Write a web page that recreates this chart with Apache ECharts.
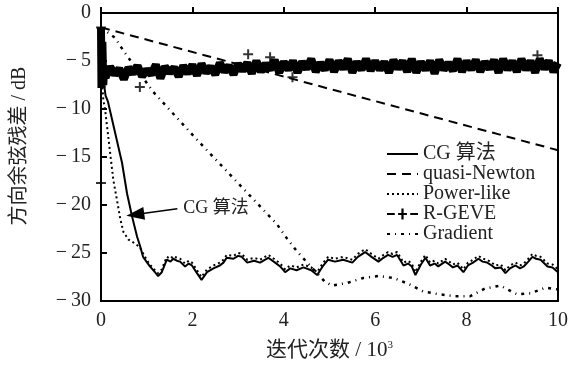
<!DOCTYPE html>
<html>
<head>
<meta charset="utf-8">
<script src="https://cdn.jsdelivr.net/npm/echarts@6/dist/echarts.min.js"></script>
<style>
  html, body { margin: 0; padding: 0; background: #fff; }
  #chart { width: 574px; height: 367px; }
</style>
</head>
<body>
<div id="chart"></div>
<script>
// x in 10^3 iterations, y in dB
const cgData = [[0,-1.5],[0.02,-6.5],[0.06,-7.2],[0.1,-8.6],[0.15,-9.2],[0.31,-12.5],[0.46,-15.6],[0.57,-18.8],[0.68,-21.2],[0.79,-23.3],[0.85,-24.2],[0.92,-25.4],[1.07,-26.4],[1.18,-27.0],[1.25,-27.4],[1.33,-27.0],[1.44,-25.7],[1.52,-25.9],[1.58,-25.6],[1.66,-25.8],[1.73,-25.9],[1.84,-26.4],[1.92,-26.1],[1.99,-26.3],[2.1,-27.1],[2.2,-27.8],[2.32,-27.0],[2.46,-26.6],[2.6,-26.3],[2.68,-26.0],[2.75,-25.5],[2.9,-25.6],[3.0,-25.3],[3.08,-25.4],[3.2,-26.0],[3.35,-25.8],[3.48,-26.0],[3.66,-25.5],[3.81,-26.0],[3.92,-26.4],[4.03,-27.0],[4.14,-26.6],[4.28,-26.8],[4.43,-26.5],[4.6,-26.8],[4.73,-27.3],[4.85,-26.4],[4.97,-25.7],[5.12,-25.9],[5.3,-25.7],[5.5,-26.0],[5.62,-25.4],[5.78,-24.9],[5.92,-25.4],[6.07,-25.9],[6.18,-25.5],[6.28,-25.2],[6.38,-25.4],[6.48,-25.2],[6.62,-26.3],[6.72,-26.1],[6.8,-26.4],[6.88,-27.3],[7.0,-26.2],[7.1,-25.5],[7.2,-26.3],[7.3,-26.1],[7.38,-26.4],[7.53,-25.9],[7.62,-26.2],[7.7,-26.5],[7.8,-26.3],[7.93,-27.0],[8.03,-26.3],[8.14,-26.0],[8.26,-25.6],[8.35,-25.9],[8.45,-26.0],[8.55,-26.3],[8.63,-26.6],[8.75,-26.5],[8.85,-27.1],[8.95,-26.6],[9.07,-26.3],[9.17,-26.6],[9.25,-26.4],[9.35,-25.9],[9.44,-25.4],[9.52,-25.6],[9.62,-25.7],[9.77,-26.4],[9.88,-26.5],[10,-27.0]];
const quasiNewtonData = [[0,-1.5],[10,-14.3]];
const powerLikeData = [[0,-1.5],[0.02,-7],[0.05,-9],[0.09,-10.1],[0.15,-12.5],[0.21,-15],[0.27,-17.4],[0.35,-19.5],[0.42,-21.4],[0.49,-22.8],[0.6,-23.6],[0.74,-24.0],[0.85,-24.4],[0.95,-25.3],[1.05,-26.1],[1.18,-26.8],[1.25,-27.1],[1.33,-26.7],[1.44,-25.4],[1.52,-25.6],[1.58,-25.3],[1.66,-25.5],[1.73,-25.6],[1.84,-26.1],[1.92,-25.8],[1.99,-26.0],[2.1,-26.8],[2.2,-27.5],[2.32,-26.7],[2.46,-26.3],[2.6,-26.0],[2.68,-25.7],[2.75,-25.2],[2.9,-25.3],[3.0,-25.0],[3.08,-25.1],[3.2,-25.7],[3.35,-25.5],[3.48,-25.7],[3.66,-25.2],[3.81,-25.7],[3.92,-26.1],[4.03,-26.7],[4.14,-26.3],[4.28,-26.5],[4.43,-26.2],[4.6,-26.5],[4.73,-27.0],[4.85,-26.1],[4.97,-25.4],[5.12,-25.6],[5.3,-25.4],[5.5,-25.7],[5.62,-25.1],[5.78,-24.6],[5.92,-25.1],[6.07,-25.6],[6.18,-25.2],[6.28,-24.9],[6.38,-25.1],[6.48,-24.9],[6.62,-26.0],[6.72,-25.8],[6.8,-26.1],[6.88,-27.0],[7.0,-25.9],[7.1,-25.2],[7.2,-26.0],[7.3,-25.8],[7.38,-26.1],[7.53,-25.6],[7.62,-25.9],[7.7,-26.2],[7.8,-26.0],[7.93,-26.7],[8.03,-26.0],[8.14,-25.7],[8.26,-25.3],[8.35,-25.6],[8.45,-25.7],[8.55,-26.0],[8.63,-26.3],[8.75,-26.2],[8.85,-26.8],[8.95,-26.3],[9.07,-26.0],[9.17,-26.3],[9.25,-26.1],[9.35,-25.6],[9.44,-25.1],[9.52,-25.3],[9.62,-25.4],[9.77,-26.1],[9.88,-26.2],[10,-26.7]];
const gradientData = [[0,-1.5],[0.31,-2.6],[0.5,-4.0],[1.14,-8.2],[2.1,-13.2],[3.85,-22.0],[4.07,-23.5],[4.3,-24.9],[4.9,-28.0],[5.06,-28.4],[5.4,-28.1],[5.74,-27.6],[6.07,-27.4],[6.4,-27.6],[6.72,-28.2],[7.05,-29.0],[7.4,-29.3],[7.75,-29.5],[8.08,-29.5],[8.4,-28.7],[8.74,-28.4],[9.1,-29.3],[9.4,-29.2],[9.73,-28.6],[10,-28.8]];
// R-GEVE: start, then noisy band sampled every 0.1 from 0.1 to 10
const rgeveStart = [[0,-1.5],[0.01,-7.8],[0.03,-3.0],[0.05,-7.5],[0.07,-5.5]];
const rgeveBand = [
  -6.7,-5.6,-6.4,-5.8,-6.9,-5.7,-6.3,-5.5,-6.6,-5.9,
  -6.4,-5.4,-6.8,-5.6,-6.2,-5.7,-6.6,-5.5,-6.3,-5.4,
  -6.5,-5.3,-6.2,-5.6,-6.4,-5.2,-6.1,-5.5,-6.4,-5.3,
  -6.0,-5.2,-6.3,-5.0,-6.1,-5.3,-5.9,-4.9,-6.2,-5.1,
  -5.9,-5.0,-6.2,-5.1,-5.8,-4.8,-6.1,-5.2,-5.9,-4.9,
  -6.1,-5.0,-5.8,-4.8,-6.2,-5.1,-5.9,-4.8,-6.0,-5.0,
  -5.9,-5.1,-6.2,-4.9,-5.8,-5.0,-6.1,-4.8,-6.2,-5.1,
  -5.9,-5.0,-6.3,-4.9,-5.9,-5.2,-6.0,-4.8,-6.1,-5.0,
  -5.9,-4.9,-6.1,-5.1,-5.8,-4.9,-6.2,-4.8,-5.9,-5.0,
  -6.1,-4.8,-5.9,-5.0,-6.2,-4.8,-5.8,-5.0,-6.1,-5.2
];
const rgeveMarkers = [[0,-1.5],[0,-17.7],[0.85,-7.7],[3.22,-4.3],[3.7,-4.6],[4.19,-6.7],[9.55,-4.4]];

const rgeveData = rgeveStart.concat(rgeveBand.map((v, i) => [Number(((i + 1) * 0.1).toFixed(1)), v]));

const plusPath = 'path://M4,0H6V4H10V6H6V10H4V6H0V4H4Z';
const legendPlus = 'path://M0,4H7V6H0Z M10,4H18V6H10Z M13,0H15V10H13Z M21,4H28V6H21Z';
const font = "'Liberation Serif','Noto Sans CJK SC',serif";

const chart = echarts.init(document.getElementById('chart'));
chart.setOption({
  animation: false,
  backgroundColor: '#fff',
  textStyle: { fontFamily: font, color: '#222' },
  grid: { left: 101, right: 16, top: 13, bottom: 66, show: true, borderColor: '#000', borderWidth: 2 },
  legend: {
    orient: 'vertical', left: 381, top: 139,
    itemWidth: 31, itemHeight: 12, itemGap: 0,
    itemStyle: { opacity: 0 },
    textStyle: { fontFamily: font, fontSize: 20, color: '#222', lineHeight: 19 },
    data: ['CG 算法', 'quasi-Newton', 'Power-like', { name: 'R-GEVE', icon: legendPlus, itemStyle: { opacity: 1 } }, 'Gradient']
  },
  xAxis: {
    type: 'value', min: 0, max: 10, interval: 2,
    name: '迭代次数 / 10{sup|3}', nameLocation: 'middle', nameGap: 39,
    nameTextStyle: { fontFamily: font, fontSize: 21, color: '#222', rich: { sup: { fontSize: 11, verticalAlign: 'top', padding: [0, 0, 10, 0], fontFamily: font, color: '#222' } } },
    axisLine: { lineStyle: { color: '#000', width: 2 } },
    axisTick: { inside: true, length: 6, lineStyle: { color: '#000', width: 2 } },
    axisLabel: { fontSize: 20, color: '#222', margin: 10, fontFamily: font },
    splitLine: { show: false }
  },
  yAxis: {
    type: 'value', min: -30, max: 0, interval: 5,
    name: '方向余弦残差 / dB', nameLocation: 'middle', nameGap: 71,
    nameTextStyle: { fontFamily: font, fontSize: 20, color: '#222', padding: [0, 0, 0, 22] },
    axisLine: { lineStyle: { color: '#000', width: 2 } },
    axisTick: { inside: true, length: 6, lineStyle: { color: '#000', width: 2 } },
    axisLabel: { fontSize: 20, color: '#222', margin: 10, fontFamily: font,
      formatter: v => v === 0 ? '0' : '\u2212\u2009' + Math.abs(v) },
    splitLine: { show: false }
  },
  series: [
    {
      name: 'R-GEVE', type: 'line', data: rgeveData, symbol: 'none',
      lineStyle: { color: '#000', width: 8 }, itemStyle: { color: '#000' }, z: 2
    },
    {
      name: 'R-GEVE', type: 'scatter', data: rgeveMarkers, symbol: plusPath, symbolSize: 10,
      itemStyle: { color: '#000' }, z: 3
    },
    {
      name: 'quasi-Newton', type: 'line', data: quasiNewtonData, symbol: 'none',
      lineStyle: { color: '#000', width: 2, type: [9, 6] }, itemStyle: { color: '#000' }
    },
    {
      name: 'Gradient', type: 'line', data: gradientData, symbol: 'none',
      lineStyle: { color: '#000', width: 2.5, type: [3, 5, 1, 5] }, itemStyle: { color: '#000' }
    },
    {
      name: 'Power-like', type: 'line', data: powerLikeData, symbol: 'none',
      lineStyle: { color: '#000', width: 2, type: [2, 3] }, itemStyle: { color: '#000' }
    },
    {
      name: 'CG 算法', type: 'line', data: cgData, symbol: 'none',
      lineStyle: { color: '#000', width: 2 }, itemStyle: { color: '#000' },
      markLine: {
        silent: true, animation: false,
        lineStyle: { color: '#000', width: 1.5, type: 'solid' },
        label: { show: true, position: 'start', formatter: 'CG 算法', fontFamily: font, fontSize: 18, color: '#222', distance: 6 },
        data: [[
          { coord: [1.67, -20.4], symbol: 'none' },
          { coord: [0.75, -21.0], symbol: 'triangle', symbolSize: [13, 18] }
        ]]
      }
    }
  ]
});
</script>
</body>
</html>
